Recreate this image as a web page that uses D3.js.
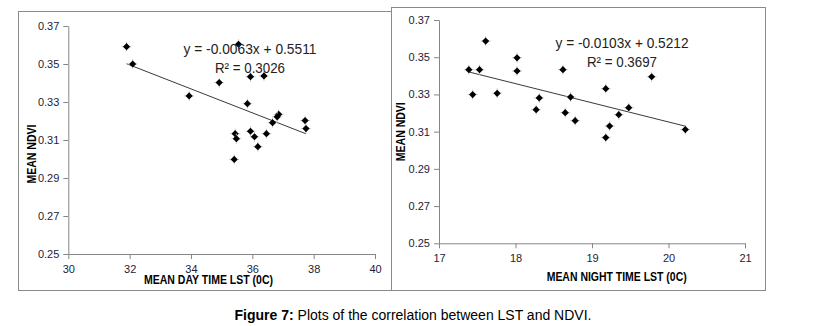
<!DOCTYPE html>
<html>
<head>
<meta charset="utf-8">
<script src="https://cdn.jsdelivr.net/npm/d3@7"></script>
<style>
  body { margin: 0; background: #fff; }
  .axis path, .axis line { stroke: #868686; }
  .axis text { font-family: "Liberation Sans", Arial, sans-serif; font-size: 11px; fill: #1c1c3a; }
  .axis-title { font-family: "Liberation Sans", Arial, sans-serif; font-weight: bold; font-size: 12.5px; fill: #000; }
  .eq { font-family: "Liberation Sans", Arial, sans-serif; font-size: 14.5px; fill: #222; }
</style>
</head>
<body>
<div id="chart"></div>
<script>
// day time panel: mean day LST (0C) vs mean NDVI
const dayLST = [31.90, 32.10, 33.94, 34.92, 35.55, 35.94, 36.38, 35.84, 36.86, 36.81,
                36.66, 37.72, 37.75, 35.44, 35.48, 35.94, 36.07, 36.46, 36.18, 35.41];
const dayNDVI = [0.3591, 0.3500, 0.3332, 0.3402, 0.3604, 0.3433, 0.3437, 0.3291, 0.3235, 0.3222,
                 0.3191, 0.3202, 0.3160, 0.3133, 0.3107, 0.3146, 0.3117, 0.3133, 0.3065, 0.2998];

// night time panel
const nightLST = [17.61, 17.39, 17.53, 18.02, 18.02, 18.62, 17.44, 17.76, 18.31, 18.27,
                  18.72, 18.65, 18.78, 19.18, 19.18, 19.23, 19.35, 19.48, 19.78, 20.22];
const nightNDVI = [0.3587, 0.3433, 0.3433, 0.3497, 0.3426, 0.3433, 0.3299, 0.3306, 0.3281, 0.3218,
                   0.3286, 0.3202, 0.3159, 0.3331, 0.3068, 0.3130, 0.3191, 0.3229, 0.3395, 0.3111];

// trendlines as printed on the chart
const dayFit = {slope: -0.0063, intercept: 0.5511, label: "y = -0.0063x + 0.5511", r2: "R\u00B2 = 0.3026"};
const nightFit = {slope: -0.0103, intercept: 0.5212, label: "y = -0.0103x + 0.5212", r2: "R\u00B2 = 0.3697"};

const yTicks = [0.25, 0.27, 0.29, 0.31, 0.33, 0.35, 0.37];
const dayXTicks = [30, 32, 34, 36, 38, 40];
const nightXTicks = [17, 18, 19, 20, 21];

const W = 827, H = 326;

const svg = d3.select("#chart").append("svg")
    .attr("width", W)
    .attr("height", H);

svg.append("rect").attr("width", W).attr("height", H).attr("fill", "#fff");

function drawPanel(p) {
    // frame round the chart
    svg.append("rect")
        .attr("x", p.box[0] + 0.5)
        .attr("y", p.box[1] + 0.5)
        .attr("width", p.box[2] - p.box[0])
        .attr("height", p.box[3] - p.box[1])
        .attr("fill", "#fff")
        .attr("stroke", "#8a8a8a");

    let x = d3.scaleLinear().domain(p.xDomain).range(p.xRange);
    let y = d3.scaleLinear().domain([0.25, 0.37]).range(p.yRange);

    let g = svg.append("g");

    g.append("g")
        .attr("class", "axis")
        .attr("transform", "translate(" + p.xRange[0] + ",0)")
        .call(d3.axisLeft(y).tickValues(yTicks).tickFormat(d3.format(".2f"))
            .tickSize(5).tickSizeOuter(0).tickPadding(4));

    g.append("g")
        .attr("class", "axis")
        .attr("transform", "translate(0," + p.yRange[0] + ")")
        .call(d3.axisBottom(x).tickValues(p.xTicks).tickFormat(d3.format("d"))
            .tickSize(5).tickSizeOuter(0).tickPadding(6));

    // trendline over the data extent
    let ext = d3.extent(p.xs);
    g.append("line")
        .attr("x1", x(ext[0]))
        .attr("y1", y(p.fit.slope * ext[0] + p.fit.intercept))
        .attr("x2", x(ext[1]))
        .attr("y2", y(p.fit.slope * ext[1] + p.fit.intercept))
        .attr("stroke", "#222")
        .attr("stroke-width", 0.9);

    let pts = p.xs.map((d, i) => [d, p.ys[i]]);
    let diamond = d3.symbol().type(d3.symbolSquare).size(26);

    let mk = g.selectAll(".pt").data(pts).enter().append("g")
        .attr("class", "pt")
        .attr("transform", d => "translate(" + x(d[0]) + "," + y(d[1]) + ")");
    // faint cross behind each marker
    mk.append("path")
        .attr("d", "M-5,0H5M0,-5V5")
        .attr("stroke", "#c8c8c8")
        .attr("stroke-width", 1);
    mk.append("path")
        .attr("d", diamond)
        .attr("transform", "rotate(45)")
        .attr("fill", "#000");

    // equation + R2
    g.append("text").attr("class", "eq")
        .attr("x", p.eqPos[0]).attr("y", p.eqPos[1])
        .attr("text-anchor", "middle")
        .attr("textLength", 133)
        .attr("lengthAdjust", "spacingAndGlyphs")
        .text(p.fit.label);
    g.append("text").attr("class", "eq")
        .attr("x", p.eqPos[0]).attr("y", p.eqPos[1] + 19)
        .attr("text-anchor", "middle")
        .attr("textLength", 70)
        .attr("lengthAdjust", "spacingAndGlyphs")
        .text(p.fit.r2);

    // axis titles
    g.append("text").attr("class", "axis-title")
        .attr("x", p.xTitle[0]).attr("y", p.xTitle[1])
        .attr("text-anchor", "middle")
        .attr("textLength", p.xTitle[2])
        .attr("lengthAdjust", "spacingAndGlyphs")
        .text(p.xLabel);

    g.append("text").attr("class", "axis-title")
        .attr("transform", "translate(" + p.yTitle[0] + "," + p.yTitle[1] + ") rotate(-90)")
        .attr("text-anchor", "middle")
        .attr("textLength", 59)
        .attr("lengthAdjust", "spacingAndGlyphs")
        .text("MEAN NDVI");
}

drawPanel({
    box: [18, 11, 391, 290],
    xDomain: [30, 40], xRange: [68.3, 375], yRange: [254, 26],
    xTicks: dayXTicks,
    xs: dayLST, ys: dayNDVI, fit: dayFit,
    eqPos: [250, 54],
    xTitle: [208.5, 284, 129], xLabel: "MEAN DAY TIME LST (0C)",
    yTitle: [35.5, 154]
});

drawPanel({
    box: [391, 7, 765, 290],
    xDomain: [17, 21], xRange: [439, 745], yRange: [243.3, 20],
    xTicks: nightXTicks,
    xs: nightLST, ys: nightNDVI, fit: nightFit,
    eqPos: [622, 47.5],
    xTitle: [616.7, 280.5, 140], xLabel: "MEAN NIGHT TIME LST (0C)",
    yTitle: [404.5, 131.7]
});

// caption
let cap = svg.append("text")
    .attr("x", 413)
    .attr("y", 320)
    .attr("text-anchor", "middle")
    .style("font-family", "'Liberation Sans', Arial, sans-serif")
    .style("font-size", "14px")
    .attr("fill", "#000");
cap.append("tspan").attr("font-weight", "bold").text("Figure 7:");
cap.append("tspan").text(" Plots of the correlation between LST and NDVI.");
</script>
</body>
</html>
